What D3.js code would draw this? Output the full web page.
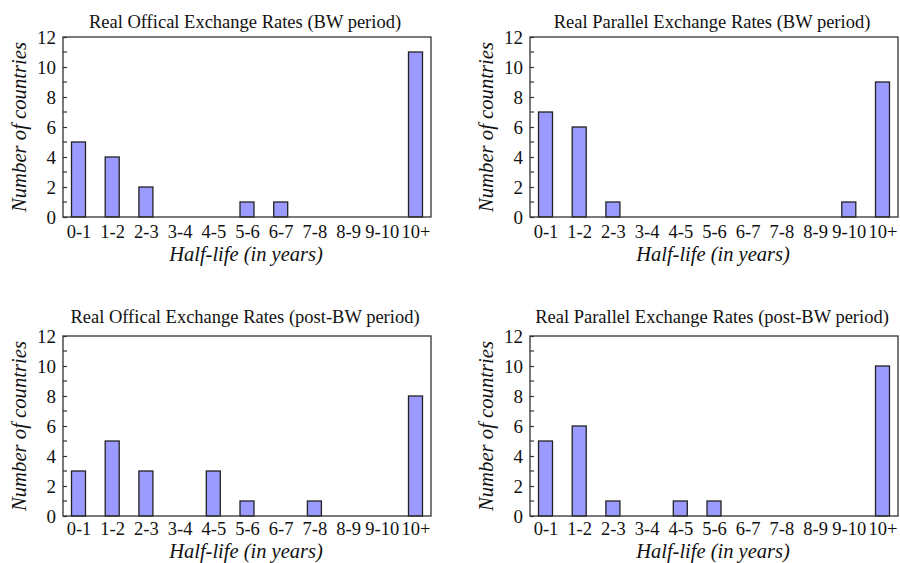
<!DOCTYPE html>
<html>
<head>
<meta charset="utf-8">
<script src="https://cdn.jsdelivr.net/npm/d3@7"></script>
<style>
  html, body { margin: 0; padding: 0; background: #fff; }
  svg { display: block; }
  text { font-family: 'Liberation Serif', 'Times New Roman', serif; }
</style>
</head>
<body>
<svg id="chart" width="900" height="563"></svg>
<script>
const categories = ["0-1","1-2","2-3","3-4","4-5","5-6","6-7","7-8","8-9","9-10","10+"];
const titles = [
  "Real Offical Exchange Rates (BW period)",
  "Real Parallel Exchange Rates (BW period)",
  "Real Offical Exchange Rates (post-BW period)",
  "Real Parallel Exchange Rates (post-BW period)"
];
const officialBW     = [5, 4, 2, 0, 0, 1, 1, 0, 0, 0, 11];
const parallelBW     = [7, 6, 1, 0, 0, 0, 0, 0, 0, 1, 9];
const officialPostBW = [3, 5, 3, 0, 3, 1, 0, 1, 0, 0, 8];
const parallelPostBW = [5, 6, 1, 0, 1, 1, 0, 0, 0, 0, 10];
const yTicks = [0, 2, 4, 6, 8, 10, 12];
const yMinorTicks = [1, 3, 5, 7, 9, 11];
const xLabel = "Half-life (in years)";
const yLabel = "Number of countries";

const series = [officialBW, parallelBW, officialPostBW, parallelPostBW];
const frames = [
  {x0: 63,  x1: 431, y0: 37,  y1: 217, tOff: 9,    xlOff: 44, pad: 8},
  {x0: 530, x1: 898, y0: 37,  y1: 217, tOff: 9,    xlOff: 44, pad: 8},
  {x0: 63,  x1: 431, y0: 336, y1: 516, tOff: 13.5, xlOff: 42, pad: 6},
  {x0: 530, x1: 898, y0: 336, y1: 516, tOff: 13.5, xlOff: 42, pad: 6}
];

const svg = d3.select("#chart");
const font = "'Liberation Serif', 'Times New Roman', serif";
const barW = 14;

series.forEach((vals, i) => {
  const f = frames[i];
  const x = d3.scalePoint().domain(categories).range([f.x0, f.x1]).padding(0.46);
  const y = d3.scaleLinear().domain([0, 12]).range([f.y1, f.y0]);
  const g = svg.append("g");

  // bars
  g.selectAll("rect.bar")
    .data(categories.map((c, k) => ({c, v: vals[k]})).filter(d => d.v > 0))
    .join("rect")
    .attr("class", "bar")
    .attr("x", d => x(d.c) - barW / 2)
    .attr("y", d => y(d.v))
    .attr("width", barW)
    .attr("height", d => y(0) - y(d.v))
    .attr("fill", "#9a9aff")
    .attr("stroke", "#222")
    .attr("stroke-width", 1.3);

  // frame
  g.append("rect")
    .attr("x", f.x0).attr("y", f.y0)
    .attr("width", f.x1 - f.x0).attr("height", f.y1 - f.y0)
    .attr("fill", "none").attr("stroke", "#333").attr("stroke-width", 1.3);

  // y axis (ticks inward)
  const yAxis = d3.axisLeft(y).tickValues(yTicks).tickSize(-4).tickPadding(7)
    .tickFormat(d3.format("d"));
  const ya = g.append("g").attr("transform", `translate(${f.x0},0)`).call(yAxis);
  ya.attr("font-family", null).attr("font-size", null);
  ya.select(".domain").remove();
  ya.selectAll("line").attr("stroke", "#333").attr("stroke-width", 1.2);
  ya.selectAll("text").style("font-family", font).style("font-size", "19px").attr("fill", "#111");
  g.selectAll("line.minor").data(yMinorTicks).join("line")
    .attr("class", "minor")
    .attr("x1", f.x0).attr("x2", f.x0 + 4)
    .attr("y1", d => y(d)).attr("y2", d => y(d))
    .attr("stroke", "#333").attr("stroke-width", 1.2);

  // x axis labels
  const xAxis = d3.axisBottom(x).tickSize(0).tickPadding(f.pad);
  const xa = g.append("g").attr("transform", `translate(0,${f.y1})`).call(xAxis);
  xa.attr("font-family", null).attr("font-size", null);
  xa.select(".domain").remove();
  xa.selectAll("text").style("font-family", font).style("font-size", "18.5px").attr("fill", "#111");

  // title
  g.append("text")
    .attr("x", (f.x0 + f.x1) / 2 - 2).attr("y", f.y0 - f.tOff)
    .attr("text-anchor", "middle")
    .style("font-family", font).style("font-size", "18.5px").attr("fill", "#111")
    .text(titles[i]);

  // x label
  g.append("text")
    .attr("x", (f.x0 + f.x1) / 2 - 1).attr("y", f.y1 + f.xlOff)
    .attr("text-anchor", "middle")
    .style("font-family", font).style("font-style", "italic").style("font-size", "20.5px").attr("fill", "#111")
    .text(xLabel);

  // y label
  g.append("text")
    .attr("transform", `translate(${f.x0 - 37},${(f.y0 + f.y1) / 2}) rotate(-90)`)
    .attr("text-anchor", "middle")
    .style("font-family", font).style("font-style", "italic").style("font-size", "20.7px").attr("fill", "#111")
    .text(yLabel);
});
</script>
</body>
</html>
